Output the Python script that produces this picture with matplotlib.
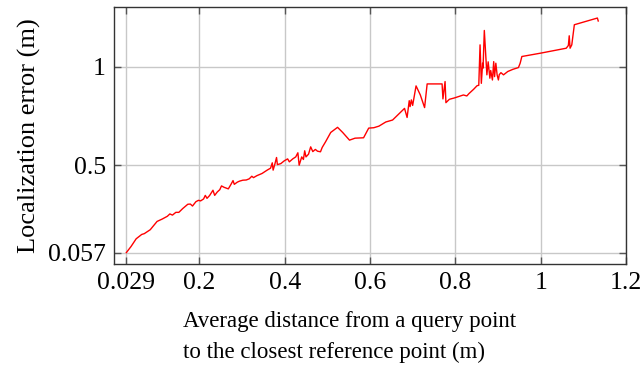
import matplotlib
matplotlib.use("Agg")
import matplotlib.pyplot as plt

# average distance to closest reference point (m)
dist = [0.029, 0.040, 0.052, 0.065, 0.071, 0.085, 0.101, 0.113, 0.125, 0.131,
        0.137, 0.145, 0.152, 0.161, 0.173, 0.179, 0.184, 0.192, 0.198, 0.203,
        0.210, 0.214, 0.218, 0.224, 0.232, 0.236, 0.242, 0.248, 0.252, 0.258,
        0.268, 0.274, 0.279, 0.282, 0.289, 0.294, 0.302, 0.310, 0.317, 0.323,
        0.327, 0.335, 0.347, 0.359, 0.367, 0.371, 0.373, 0.377, 0.381, 0.383,
        0.391, 0.399, 0.407, 0.411, 0.419, 0.426, 0.431, 0.434, 0.440, 0.444,
        0.447, 0.450, 0.456, 0.461, 0.466, 0.472, 0.477, 0.484, 0.488, 0.496,
        0.508, 0.524, 0.536, 0.552, 0.565, 0.585, 0.597, 0.609, 0.621, 0.637,
        0.653, 0.665, 0.681, 0.687, 0.692, 0.694, 0.697, 0.700, 0.708, 0.718,
        0.728, 0.734, 0.769, 0.771, 0.776, 0.778, 0.786, 0.798, 0.819, 0.827,
        0.832, 0.843, 0.851, 0.855, 0.858, 0.861, 0.864, 0.865, 0.868, 0.871,
        0.874, 0.877, 0.881, 0.883, 0.887, 0.890, 0.892, 0.895, 0.898, 0.901,
        0.903, 0.907, 0.913, 0.923, 0.935, 0.948, 0.952, 0.956, 1.000, 1.060,
        1.065, 1.067, 1.069, 1.073, 1.079, 1.133, 1.135]
# localization error (m)
err = [0.057, 0.088, 0.127, 0.149, 0.153, 0.173, 0.215, 0.227, 0.241, 0.253,
       0.247, 0.261, 0.261, 0.280, 0.302, 0.303, 0.293, 0.315, 0.322, 0.319,
       0.329, 0.347, 0.332, 0.346, 0.373, 0.347, 0.364, 0.376, 0.395, 0.388,
       0.380, 0.402, 0.422, 0.403, 0.414, 0.419, 0.424, 0.425, 0.431, 0.444,
       0.437, 0.447, 0.458, 0.475, 0.485, 0.512, 0.475, 0.505, 0.539, 0.503,
       0.508, 0.522, 0.532, 0.517, 0.532, 0.542, 0.563, 0.500, 0.542, 0.529,
       0.573, 0.542, 0.556, 0.593, 0.569, 0.580, 0.571, 0.568, 0.590, 0.619,
       0.666, 0.692, 0.666, 0.627, 0.637, 0.639, 0.688, 0.690, 0.698, 0.719,
       0.729, 0.754, 0.788, 0.742, 0.827, 0.797, 0.831, 0.803, 0.902, 0.856,
       0.792, 0.912, 0.912, 0.836, 0.924, 0.817, 0.834, 0.841, 0.856, 0.851,
       0.863, 0.885, 0.903, 0.905, 1.110, 0.915, 1.017, 0.992, 1.183, 1.068,
       0.958, 1.024, 0.941, 0.980, 0.932, 1.025, 0.949, 1.017, 0.958, 0.932,
       0.959, 0.969, 0.958, 0.975, 0.986, 0.995, 1.017, 1.051, 1.068, 1.093,
       1.107, 1.156, 1.093, 1.110, 1.212, 1.246, 1.231]

xticks = [0.029, 0.2, 0.4, 0.6, 0.8, 1.0, 1.2]
xticklabels = ['0.029', '0.2', '0.4', '0.6', '0.8', '1', '1.2']
yticks = [0.057, 0.5, 1.0]
yticklabels = ['0.057', '0.5', '1']

plt.rcParams['font.family'] = ['Liberation Serif', 'DejaVu Serif']

fig = plt.figure(figsize=(6.44, 3.69), dpi=100)
ax = fig.add_axes([0.177, 0.285, 0.795, 0.695])

ax.plot(dist, err, color='red', lw=1.0)

ax.set_xlim(0, 1.2)
ax.set_ylim(0, 1.3)
ax.set_xticks(xticks)
ax.set_xticklabels(xticklabels)
ax.set_yticks(yticks)
ax.set_yticklabels(yticklabels)
ax.grid(True, color='#c8c8c8', lw=1.0)
ax.set_axisbelow(True)
ax.tick_params(direction='in', length=5, width=1, color='#555555',
               top=True, right=True, labelsize=18.5)
ax.tick_params(axis='x', pad=6)
ax.tick_params(axis='y', pad=6)
for s in ax.spines.values():
    s.set_color('#333333')
    s.set_linewidth(1.0)

ax.set_ylabel('Localization error (m)', fontsize=19, labelpad=5)
fig.text(183 / 644, 1 - 322 / 369, 'Average distance from a query point',
         fontsize=16.5, ha='left', va='center')
fig.text(183 / 644, 1 - 352 / 369, 'to the closest reference point (m)',
         fontsize=16.5, ha='left', va='center')

fig.savefig('out.png', dpi=100)
